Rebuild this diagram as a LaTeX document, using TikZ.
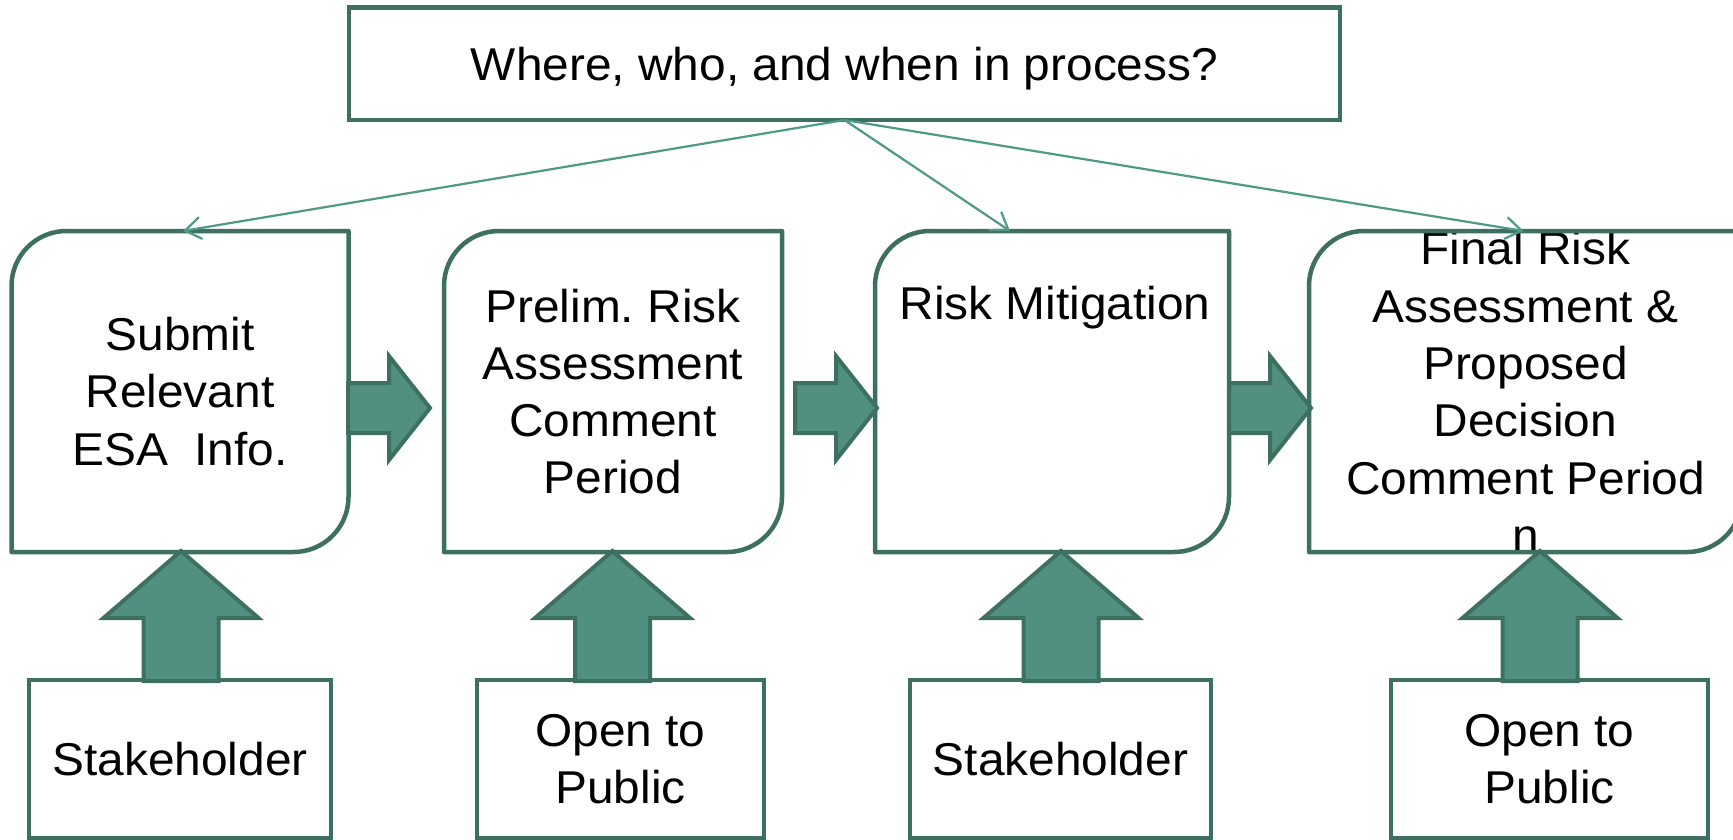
\documentclass[tikz,border=0pt]{standalone}
\usepackage{fontspec}
\setmainfont[FakeStretch=1.04]{Liberation Sans}
\usetikzlibrary{arrows.meta,calc}
\frenchspacing
\definecolor{bord}{HTML}{3D7060}
\definecolor{afill}{HTML}{519080}
\definecolor{thinc}{HTML}{4E9A85}
\tikzset{
  lbl/.style={font=\fontsize{46}{57.3}\selectfont, align=center, inner sep=0pt, outer sep=0pt},
  boxline/.style={draw=bord, line width=4.5pt, line join=round},
  procbox/.style={lbl, minimum width=#1, minimum height=321pt},
  plainbox/.style={lbl, draw=bord, line width=4.5pt, minimum width=#1, minimum height=158pt, text depth=0pt},
  thinarrow/.style={draw=thinc, line width=2.2pt, -{Straight Barb[length=16pt,width=22pt,line width=2.2pt]}},
  bigarrow/.style={draw=bord, fill=afill, line width=4pt, line join=miter},
  harrowpic/.pic={\path[bigarrow] (0,-25) -- (41,-25) -- (41,-52) -- (82,0) -- (41,52) -- (41,25) -- (0,25) -- cycle;},
  varrowpic/.pic={\path[bigarrow] (0,0) -- (77.5,67) -- (37.5,67) -- (37.5,130) -- (-37.5,130) -- (-37.5,67) -- (-77.5,67) -- cycle;}
}
\newcommand\procoutline[1]{\draw[boxline] (#1.south west) -- ([yshift=-55pt]#1.north west) .. controls ([yshift=-24.6pt]#1.north west) and ([xshift=24.6pt]#1.north west) .. ([xshift=55pt]#1.north west) -- (#1.north east) -- ([yshift=55pt]#1.south east) .. controls ([yshift=24.6pt]#1.south east) and ([xshift=-24.6pt]#1.south east) .. ([xshift=-55pt]#1.south east) -- cycle;}
\begin{document}
\begin{tikzpicture}[x=1pt,y=-1pt]
\clip (0,0) rectangle (1733,839);
\fill[white] (0,0) rectangle (1733,839);
% top box
\node[lbl, draw=bord, line width=4.5pt, minimum width=991pt, minimum height=112.5pt, text depth=0pt] (top) at (844.5,63.75) {Where, who, and when in process?};
% process boxes
\node[procbox=337pt] (b1) at (180,391.5) {Submit\\Relevant\\ESA\ \ Info.};
\node[procbox=338pt] (b2) at (613,391.5) {Prelim. Risk\\Assessment\\Comment\\Period};
\node[procbox=354pt] (b3) at (1052,391.5) {};
\node[lbl, anchor=base] (t3) at (1055,319.5) {Risk Mitigation};
\node[procbox=433pt] (b4) at (1525.5,391.5) {Final Risk\\Assessment \&\\Proposed\\Decision\\Comment Period\\n};
\procoutline{b1}
\procoutline{b2}
\procoutline{b3}
\procoutline{b4}
% bottom boxes
\node[plainbox=302pt] (s1) at (180,759) {Stakeholder};
\node[plainbox=287pt] (p1) at (620.5,759) {Open to\\Public};
\node[plainbox=301pt] (s2) at (1060.5,759) {Stakeholder};
\node[plainbox=317pt] (p2) at (1549.5,759) {Open to\\Public};
% thin arrows
\draw[thinarrow] (top.south) -- ([xshift=3pt]b1.north);
\draw[thinarrow] (top.south) -- ([xshift=-42pt]b3.north);
\draw[thinarrow] (top.south) -- ([xshift=-2pt]b4.north);
% block arrows between boxes
\pic at (348,408) {harrowpic};
\pic at (795,408) {harrowpic};
\pic at (1229,408) {harrowpic};
% block arrows from bottom boxes
\pic at (181,551) {varrowpic};
\pic at (612.5,551) {varrowpic};
\pic at (1061,551) {varrowpic};
\pic at (1540,551) {varrowpic};
\end{tikzpicture}
\end{document}
